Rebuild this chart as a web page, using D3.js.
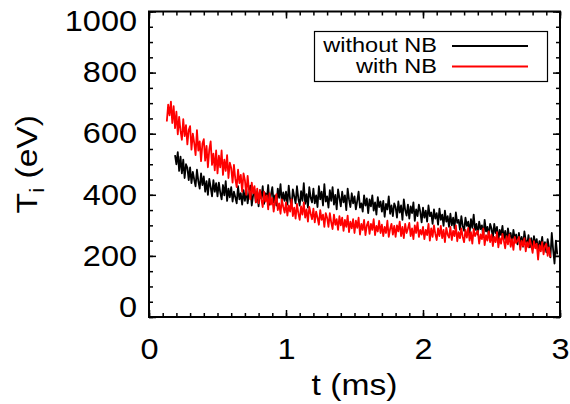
<!DOCTYPE html>
<html><head><meta charset="utf-8">
<script src="https://cdn.jsdelivr.net/npm/d3@7"></script>
<style>
body{margin:0;background:#fff}
svg{display:block}
text{font-family:"Liberation Sans",Arial,Helvetica,sans-serif;fill:#000}
</style>
</head><body>
<svg id="c" width="570" height="404"></svg>
<script>
const xTicks = [0, 1, 2, 3];
const yTicks = [0, 200, 400, 600, 800, 1000];
const seriesNames = ["without NB", "with NB"];
const seriesColors = ["#000000", "#ff0000"];
const xTitle = "t (ms)";

// sampling: black starts at 0.19 ms, red at 0.13 ms, every 0.01 ms
const blackStart = 0.19, redStart = 0.13, sampleStep = 0.01;

const blackTi = [
530,
500,540,478,525,470,515,455,500,488,448,
490,438,475,450,428,482,445,420,470,432,
460,410,445,400,452,425,395,448,410,438,
395,440,408,385,432,398,445,380,420,392,
425,378,410,392,372,428,385,405,368,415,
380,420,372,402,430,365,398,418,375,410,
362,415,388,428,370,405,385,432,368,400,
425,375,398,365,420,390,435,372,408,380,
410,368,430,385,360,418,395,372,428,388,
365,412,380,438,370,402,358,425,390,375,
420,372,398,360,428,385,410,365,435,378,
395,358,415,380,425,368,400,352,418,390,
362,410,375,398,350,420,385,360,405,372,
395,352,380,410,358,372,345,398,365,388,
340,385,362,398,348,375,335,392,360,378,
345,380,328,370,352,395,338,365,330,372,
360,325,378,342,365,318,385,350,332,368,
322,362,340,375,315,352,330,368,345,310,
358,325,348,312,365,330,342,305,352,322,
340,302,355,318,335,298,348,312,330,295,
338,300,325,290,342,308,318,285,330,298,
282,325,298,312,275,320,292,335,285,305,
270,312,288,300,262,318,280,295,265,305,
290,258,305,275,295,250,285,268,298,255,
282,245,290,262,275,240,285,255,270,238,
275,240,262,230,280,250,235,268,228,258,
225,265,238,255,215,248,232,262,218,245,
212,255,228,195,275,220,175,250,205
];

const redTi = [
640,695,660,705,635,690,618,
672,598,655,610,580,648,592,628,565,612,
625,548,600,570,530,612,545,575,510,568,
582,512,560,490,548,575,498,535,480,545,
470,528,490,545,465,515,478,530,455,505,
488,440,498,452,425,482,438,465,410,470,
448,400,462,415,385,440,405,428,375,420,
372,415,385,360,410,378,398,352,405,368,
390,345,378,402,350,372,338,385,360,342,
375,332,365,345,385,330,358,322,370,340,
318,362,335,375,325,352,312,360,338,320,
355,310,345,325,302,350,318,335,295,340,
325,295,340,310,288,335,302,320,285,330,
300,325,282,318,295,332,278,312,290,320,
275,315,292,325,270,305,285,318,268,300,
312,272,305,285,320,268,298,280,315,275,
302,265,295,275,315,262,288,305,270,298,
262,300,280,312,265,295,258,305,275,290,
308,265,290,255,300,275,310,262,285,270,
295,255,285,268,305,250,290,262,300,272,
252,290,265,298,258,285,245,292,270,260,
295,252,282,265,300,248,278,258,290,262,
245,285,260,292,250,278,240,288,265,275,
282,240,270,255,290,235,268,250,280,245,
270,232,262,245,278,228,258,240,272,250,
225,265,238,270,230,255,220,262,242,250,
262,220,250,232,258,215,245,228,255,235,
210,248,225,240,188,235,215,245,205,232,
240,200,228,195
];

const STRETCH = 1.12;
function stretch(sel){
  sel.each(function(){
    const w = this.getComputedTextLength();
    this.setAttribute("textLength", (w*STRETCH).toFixed(2));
    this.setAttribute("lengthAdjust", "spacingAndGlyphs");
  });
}

const svg = d3.select("#c");
const L = 149, R = 560, T = 11.5, B = 317;
const x = d3.scaleLinear().domain([0, 3]).range([L, R]);
const y = d3.scaleLinear().domain([0, 1000]).range([B, T]);

const blackData = blackTi.map((v, i) => ({t: blackStart + i*sampleStep, v}));
const redData = redTi.map((v, i) => ({t: redStart + i*sampleStep, v}));

const line = d3.line().x(d => x(d.t)).y(d => y(d.v));

svg.append("path").datum(blackData).attr("d", line)
  .attr("fill", "none").attr("stroke", seriesColors[0]).attr("stroke-width", 1.8)
  .attr("stroke-linejoin", "round");
svg.append("path").datum(redData).attr("d", line)
  .attr("fill", "none").attr("stroke", seriesColors[1]).attr("stroke-width", 1.8)
  .attr("stroke-linejoin", "round");

const xMinor = d3.range(0, 3.0001, 0.1);
const yMinor = d3.range(0, 1001, 50);

function styleAxis(g){
  g.select(".domain").remove();
  g.selectAll("line").attr("stroke", "#000").attr("stroke-width", 1.5);
}

// bottom
svg.append("g").attr("transform", `translate(0,${B})`)
  .call(d3.axisBottom(x).tickValues(xMinor).tickSize(-4).tickFormat(""))
  .call(styleAxis);
const gxb = svg.append("g").attr("transform", `translate(0,${B})`)
  .call(d3.axisBottom(x).tickValues(xTicks).tickSize(-7).tickPadding(21).tickFormat(d3.format("d")))
  .call(styleAxis);
gxb.selectAll("text").attr("font-size", 29).attr("font-family", '"Liberation Sans",Arial,sans-serif').attr("fill", "#000");
// top
svg.append("g").attr("transform", `translate(0,${T})`)
  .call(d3.axisTop(x).tickValues(xMinor).tickSize(-4).tickFormat(""))
  .call(styleAxis);
svg.append("g").attr("transform", `translate(0,${T})`)
  .call(d3.axisTop(x).tickValues(xTicks).tickSize(-7).tickFormat(""))
  .call(styleAxis);
// left
svg.append("g").attr("transform", `translate(${L},0)`)
  .call(d3.axisLeft(y).tickValues(yMinor).tickSize(-4).tickFormat(""))
  .call(styleAxis);
const gyl = svg.append("g").attr("transform", `translate(${L},0)`)
  .call(d3.axisLeft(y).tickValues(yTicks).tickSize(-7).tickPadding(12).tickFormat(d3.format("d")))
  .call(styleAxis);
gyl.selectAll("text").attr("font-size", 29).attr("font-family", '"Liberation Sans",Arial,sans-serif').attr("fill", "#000");
gyl.selectAll(".tick").filter(d => d === 0).select("text").attr("dy", "0.32em").attr("y", -10);
gyl.selectAll(".tick").filter(d => d === 1000).select("text").attr("dy", "0.32em").attr("y", 10);
// right
svg.append("g").attr("transform", `translate(${R},0)`)
  .call(d3.axisRight(y).tickValues(yMinor).tickSize(-4).tickFormat(""))
  .call(styleAxis);
svg.append("g").attr("transform", `translate(${R},0)`)
  .call(d3.axisRight(y).tickValues(yTicks).tickSize(-7).tickFormat(""))
  .call(styleAxis);

// frame
svg.append("rect").attr("x", L).attr("y", T).attr("width", R - L).attr("height", B - T)
  .attr("fill", "none").attr("stroke", "#000").attr("stroke-width", 2);

stretch(gxb.selectAll("text"));
stretch(gyl.selectAll("text"));

// titles
const xt = svg.append("text").attr("x", (L + R)/2).attr("y", 395)
  .attr("text-anchor", "middle").attr("font-size", 30).text(xTitle);
stretch(xt);

const yt = svg.append("text").attr("transform", `translate(37,${(T + B)/2}) rotate(-90)`)
  .attr("text-anchor", "middle").attr("font-size", 30);
yt.append("tspan").text("T");
yt.append("tspan").attr("font-size", 20).attr("dy", 7).text("i");
yt.append("tspan").attr("dy", -7).text(" (eV)");
stretch(yt);

// legend
const lg = svg.append("g");
lg.append("rect").attr("x", 314.5).attr("y", 31.5).attr("width", 233).attr("height", 50)
  .attr("fill", "#fff").attr("stroke", "#000").attr("stroke-width", 1.2);
const legY = [46, 66.5];
seriesNames.forEach((n, i) => {
  const tx = lg.append("text").attr("x", 437).attr("y", legY[i] + 6)
    .attr("text-anchor", "end").attr("font-size", 21).text(n);
  stretch(tx);
  lg.append("line").attr("x1", 452).attr("x2", 528).attr("y1", legY[i]).attr("y2", legY[i])
    .attr("stroke", seriesColors[i]).attr("stroke-width", 1.8);
});
</script>
</body></html>
